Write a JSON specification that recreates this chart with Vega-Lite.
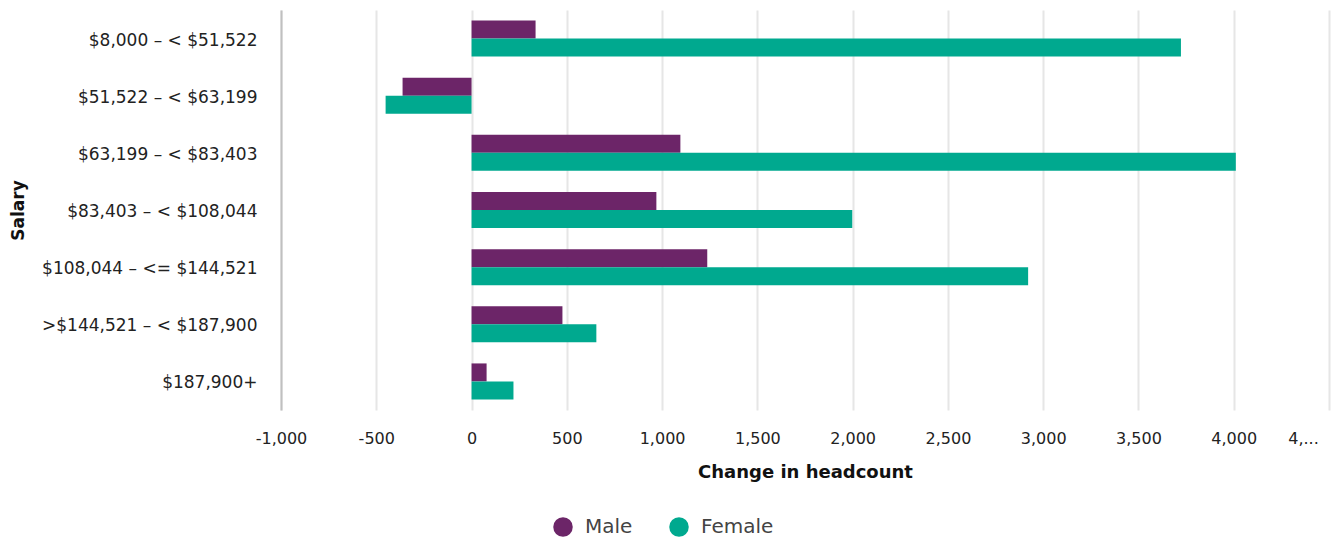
{
  "$schema": "https://vega.github.io/schema/vega-lite/v6.json",
  "width": 1048,
  "height": 400,
  "autosize": "none",
  "padding": {"left": 281, "top": 10, "right": 5, "bottom": 130},
  "background": "white",
  "config": {
    "font": "DejaVu Sans",
    "view": {"stroke": null}
  },
  "data": {
    "values": [
      {"salary": "$8,000 – < $51,522", "gender": "Male", "change": 336},
      {"salary": "$8,000 – < $51,522", "gender": "Female", "change": 3723},
      {"salary": "$51,522 – < $63,199", "gender": "Male", "change": -362},
      {"salary": "$51,522 – < $63,199", "gender": "Female", "change": -451},
      {"salary": "$63,199 – < $83,403", "gender": "Male", "change": 1096},
      {"salary": "$63,199 – < $83,403", "gender": "Female", "change": 4011},
      {"salary": "$83,403 – < $108,044", "gender": "Male", "change": 970},
      {"salary": "$83,403 – < $108,044", "gender": "Female", "change": 1998},
      {"salary": "$108,044 – <= $144,521", "gender": "Male", "change": 1237},
      {"salary": "$108,044 – <= $144,521", "gender": "Female", "change": 2921},
      {"salary": ">$144,521 – < $187,900", "gender": "Male", "change": 477},
      {"salary": ">$144,521 – < $187,900", "gender": "Female", "change": 655},
      {"salary": "$187,900+", "gender": "Male", "change": 79},
      {"salary": "$187,900+", "gender": "Female", "change": 220}
    ]
  },
  "mark": {"type": "bar"},
  "encoding": {
    "y": {
      "field": "salary",
      "type": "nominal",
      "sort": null,
      "title": "Salary",
      "scale": {"paddingInner": 0.37, "paddingOuter": 0.185},
      "axis": {
        "ticks": false,
        "domain": true,
        "domainColor": "#c0c0c0",
        "domainWidth": 2,
        "labelFontSize": 17,
        "labelColor": "#222222",
        "labelPadding": 24,
        "labelOffset": 2,
        "labelLimit": 300,
        "titleFontSize": 17,
        "titleFontWeight": "bold",
        "titleColor": "#111111",
        "titleX": -263,
        "titleY": 200,
        "titleAngle": 270,
        "titleBaseline": "middle",
        "titleAlign": "center"
      }
    },
    "yOffset": {"field": "gender", "type": "nominal", "sort": ["Male", "Female"]},
    "x": {
      "field": "change",
      "type": "quantitative",
      "title": "Change in headcount",
      "scale": {"domain": [-1000, 4500], "nice": false, "zero": false},
      "axis": {
        "values": [-1000, -500, 0, 500, 1000, 1500, 2000, 2500, 3000, 3500, 4000, 4500],
        "labelExpr": "datum.value == 4500 ? '4,...' : replace(datum.label, '−', '-')",
        "labelOffset": {"condition": {"test": "datum.value == 4500", "value": -26}, "value": 0},
        "labelOverlap": false,
        "labelFlush": false,
        "ticks": false,
        "domain": false,
        "grid": true,
        "gridColor": "#e6e6e6",
        "gridWidth": 2,
        "labelFontSize": 16,
        "labelColor": "#222222",
        "labelPadding": 20,
        "titleFontSize": 18,
        "titleFontWeight": "bold",
        "titleColor": "#111111",
        "titleX": 524,
        "titleY": 62,
        "titleBaseline": "middle",
        "titleAlign": "center"
      }
    },
    "color": {
      "field": "gender",
      "type": "nominal",
      "sort": ["Male", "Female"],
      "scale": {"domain": ["Male", "Female"], "range": ["#6c2568", "#00a98f"]},
      "legend": {
        "title": null,
        "orient": "none",
        "direction": "horizontal",
        "legendX": 272,
        "legendY": 507,
        "symbolType": "circle",
        "symbolSize": 380,
        "symbolStrokeWidth": 0,
        "labelFontSize": 20,
        "labelColor": "#444444",
        "labelOffset": 12,
        "columnPadding": 36
      }
    }
  }
}
